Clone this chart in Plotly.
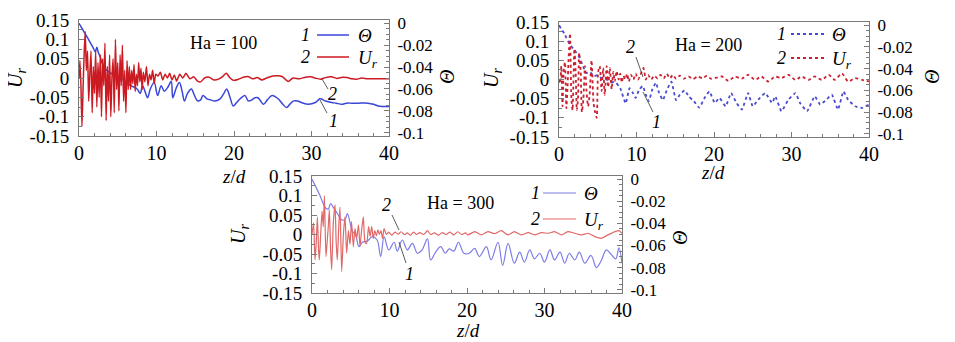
import plotly.graph_objects as go

# page body has an 8px margin: the figure is sized to fit the 955x342 window exactly
OFF = 8
W, H = 955 - OFF, 342 - OFF

# ---------------- data ----------------
# Panel 1, Ha = 100
z1_ur = [0.0, 0.12, 0.25, 0.38, 0.52, 0.66, 0.8, 0.95, 1.1, 1.25, 1.4, 1.55, 1.7, 1.85, 2.0, 2.15, 2.3, 2.45,
         2.6, 2.75, 2.9, 3.05, 3.2, 3.35, 3.5, 3.65, 3.8, 3.95, 4.1, 4.25, 4.4, 4.55, 4.7, 4.85, 5.0, 5.15,
         5.3, 5.45, 5.6, 5.75, 5.9, 6.05, 6.2, 6.35, 6.5, 6.65, 6.8, 6.95, 7.1, 7.25, 7.4, 7.55, 7.7, 7.85,
         8.0, 8.15, 8.3, 8.5, 8.7, 8.9, 9.1, 9.3, 9.5, 9.7, 9.9, 10.2, 10.5, 10.8, 11.1, 11.4, 11.7, 12.0,
         12.3, 12.6, 13.0, 13.4, 13.8, 14.3, 14.8, 15.3, 15.7, 16.2, 16.8, 17.4, 18.0, 18.6, 19.0, 19.5,
         19.9, 20.5, 21.2, 21.8, 22.4, 23.0, 23.6, 24.2, 25.0, 25.6, 26.2, 27.0, 27.6, 28.4, 29.2, 29.9,
         30.6, 31.2, 31.8, 32.6, 33.3, 34.0, 34.6, 35.2, 35.8, 36.5, 37.2, 38.0, 39.0, 40.0]
ur1 = [0.0, 0.045, -0.02, -0.125, -0.03, 0.06, 0.12, 0.02, 0.07, -0.06, 0.01, 0.07, -0.09, 0.03, -0.04, 0.07,
       -0.075, 0.04, -0.05, 0.06, -0.1, 0.05, -0.02, 0.09, -0.11, 0.03, -0.06, 0.06, -0.1, 0.0, 0.05, -0.09,
       0.1, -0.03, 0.04, -0.085, 0.06, -0.02, 0.085, -0.06, 0.02, -0.09, 0.045, -0.03, 0.03, -0.03, 0.02,
       -0.015, 0.035, -0.035, 0.01, -0.02, 0.04, -0.01, 0.025, -0.03, 0.015, -0.01, 0.03, -0.02, 0.01, -0.005,
       0.02, -0.015, 0.01, 0.005, 0.015, -0.005, 0.01, 0.0, 0.012, -0.005, 0.008, -0.008, 0.01, 0.0, 0.012,
       -0.002, 0.003, -0.008, -0.01, 0.0, 0.002, -0.005, -0.003, 0.005, 0.012, 0.0, -0.006, -0.004, 0.002,
       0.004, -0.002, 0.001, -0.005, 0.0, 0.005, 0.006, 0.004, -0.009, 0.0, -0.002, 0.002, 0.003, -0.001,
       -0.003, 0.001, 0.003, -0.001, 0.002, 0.001, -0.002, -0.003, 0.0, -0.002, -0.002, -0.002, -0.002]
z1_th = [0.0, 0.5, 1.0, 1.4, 1.8, 2.1, 2.3, 2.5, 2.7, 3.0, 3.3, 3.6, 4.0, 4.5, 5.0, 5.5, 6.0, 6.5, 7.0, 7.5,
         7.9, 8.2, 8.5, 8.85, 9.2, 9.7, 10.15, 10.6, 11.0, 11.5, 11.9, 12.1, 12.5, 12.95, 13.3, 13.6, 14.0,
         14.5, 14.9, 15.3, 15.7, 16.0, 16.5, 17.0, 17.5, 18.2, 18.7, 19.05, 19.5, 19.9, 20.4, 20.8, 21.4,
         21.85, 22.3, 22.7, 23.1, 23.8, 24.3, 24.9, 25.7, 26.3, 26.8, 27.2, 27.7, 28.2, 28.7, 29.6, 30.5,
         31.1, 31.8, 32.6, 33.2, 33.9, 34.5, 35.2, 36.0, 37.3, 38.0, 38.6, 40.0]
th1 = [0.0, -0.006, -0.012, -0.017, -0.022, -0.026, -0.022, -0.027, -0.03, -0.037, -0.041, -0.043, -0.045,
       -0.047, -0.05, -0.051, -0.053, -0.056, -0.058, -0.06, -0.064, -0.057, -0.062, -0.068, -0.06, -0.054,
       -0.066, -0.057, -0.062, -0.058, -0.053, -0.068, -0.06, -0.054, -0.062, -0.071, -0.064, -0.06, -0.066,
       -0.071, -0.07, -0.066, -0.069, -0.07, -0.071, -0.069, -0.064, -0.06, -0.068, -0.0755, -0.072, -0.069,
       -0.066, -0.0709, -0.07, -0.068, -0.068, -0.074, -0.07, -0.066, -0.069, -0.074, -0.077, -0.074, -0.0709,
       -0.071, -0.0724, -0.074, -0.0724, -0.069, -0.071, -0.0724, -0.073, -0.074, -0.073, -0.073, -0.073,
       -0.073, -0.074, -0.0755, -0.076]

# Panel 2, Ha = 200
z2_ur = [0.0, 0.15, 0.3, 0.45, 0.6, 0.77, 0.95, 1.1, 1.25, 1.42, 1.6, 1.75, 1.98, 2.15, 2.3, 2.45, 2.6, 2.8,
         2.95, 3.15, 3.35, 3.55, 3.75, 3.95, 4.2, 4.45, 4.65, 4.86, 5.05, 5.25, 5.5, 5.7, 5.9, 6.15, 6.35,
         6.55, 6.8, 7.0, 7.2, 7.44, 7.7, 7.9, 8.1, 8.3, 8.55, 8.8, 9.0, 9.3, 9.6, 9.9, 10.2, 10.5, 10.9,
         11.2, 11.5, 11.9, 12.3, 12.7, 13.1, 13.5, 13.9, 14.3, 14.7, 15.1, 15.6, 16.1, 16.7, 17.3, 17.9,
         18.5, 19.1, 19.6, 20.1, 21.0, 21.85, 22.7, 23.57, 24.4, 25.3, 26.1, 27.0, 27.9, 28.7, 29.6, 30.5,
         31.3, 32.2, 33.0, 33.9, 34.8, 35.6, 36.5, 37.3, 38.2, 39.1, 40.0]
ur2 = [0.0, -0.01, 0.035, -0.07, 0.02, 0.045, -0.075, -0.02, 0.06, 0.12, -0.05, -0.08, 0.08, 0.02, -0.08,
       -0.05, 0.07, 0.02, -0.085, -0.05, 0.035, -0.03, -0.07, -0.04, 0.05, -0.06, -0.085, -0.1, 0.02, 0.035,
       -0.03, 0.03, -0.04, 0.035, -0.02, 0.03, -0.025, 0.02, -0.005, 0.022, 0.0, 0.015, -0.008, 0.01, 0.0,
       0.015, -0.005, 0.012, 0.0, 0.015, 0.0, 0.012, 0.03, 0.0, 0.012, 0.0, 0.01, 0.003, 0.012, 0.003, 0.015,
       0.003, 0.012, 0.002, 0.01, 0.002, 0.008, 0.001, 0.008, 0.003, 0.01, 0.002, 0.0036, 0.0079, -0.0035,
       0.0079, 0.002, 0.0123, -0.0009, 0.0079, -0.0052, 0.0079, 0.0036, 0.0123, -0.0009, 0.0079, -0.0009,
       0.0079, -0.0009, 0.0123, -0.0009, 0.016, -0.0052, 0.0036, -0.0009, -0.0052]
z2_th = [0.0, 0.7, 1.33, 2.0, 2.6, 3.0, 3.5, 4.0, 4.5, 5.0, 5.5, 6.1, 6.7, 7.35, 7.9, 8.6, 9.1, 9.5, 9.9, 10.3,
         10.8, 11.2, 11.6, 12.0, 12.5, 12.9, 13.4, 13.9, 14.5, 15.1, 15.6, 16.2, 16.8, 17.4, 18.1, 18.7, 19.4,
         20.1, 20.7, 21.5, 22.2, 22.9, 23.6, 24.4, 25.0, 25.7, 26.6, 27.5, 27.9, 28.7, 29.6, 30.5, 31.1, 32.0,
         33.0, 33.7, 34.5, 35.2, 36.0, 36.7, 37.3, 38.2, 39.1, 40.0]
th2 = [0.0, -0.008, -0.017, -0.023, -0.029, -0.036, -0.044, -0.043, -0.047, -0.046, -0.049, -0.05, -0.052,
       -0.053, -0.058, -0.072, -0.058, -0.062, -0.067, -0.06, -0.056, -0.064, -0.07, -0.06, -0.053, -0.062,
       -0.069, -0.06, -0.052, -0.069, -0.064, -0.06, -0.066, -0.07, -0.076, -0.068, -0.061, -0.0716, -0.067,
       -0.0747, -0.0625, -0.0716, -0.0777, -0.0625, -0.0747, -0.0686, -0.0625, -0.0716, -0.0655, -0.0792,
       -0.0686, -0.0625, -0.0716, -0.0792, -0.0655, -0.0731, -0.0686, -0.064, -0.0777, -0.061, -0.0686,
       -0.0747, -0.0762, -0.0731]

# Panel 3, Ha = 300
z3_ur = [0.0, 0.2, 0.39, 0.55, 0.69, 0.85, 0.95, 1.12, 1.3, 1.45, 1.6, 1.8, 1.95, 2.1, 2.24, 2.4, 2.54, 2.75,
         2.97, 3.12, 3.27, 3.45, 3.61, 3.83, 4.05, 4.26, 4.47, 4.7, 4.9, 5.1, 5.33, 5.55, 5.76, 6.0, 6.19,
         6.4, 6.62, 6.85, 7.05, 7.3, 7.5, 7.7, 7.9, 8.1, 8.3, 8.5, 8.7, 8.9, 9.1, 9.3, 9.6, 9.9, 10.3, 10.7,
         11.1, 11.5, 11.9, 12.3, 12.7, 13.1, 13.5, 13.9, 14.4, 14.9, 15.3, 15.8, 16.3, 16.8, 17.3, 17.8,
         18.3, 18.8, 19.3, 19.8, 20.1, 21.0, 21.85, 22.7, 23.57, 24.4, 25.3, 26.1, 27.0, 27.9, 28.7, 29.6,
         30.5, 31.3, 32.2, 33.0, 33.9, 34.8, 35.6, 36.5, 37.3, 38.2, 39.1, 39.6, 40.0]
ur3 = [0.0, 0.03, -0.065, -0.02, 0.045, -0.04, -0.065, 0.0, 0.06, 0.02, 0.1, -0.057, -0.02, 0.02, 0.063,
       -0.04, -0.09, 0.03, 0.076, -0.02, -0.065, 0.02, 0.07, -0.095, 0.0, 0.045, -0.048, 0.01, -0.025, 0.033,
       -0.031, 0.015, -0.01, 0.025, -0.031, 0.01, 0.045, -0.02, -0.023, 0.02, -0.005, 0.02, -0.01, 0.01,
       -0.003, 0.012, 0.0, 0.01, -0.01, 0.015, 0.0, 0.006, -0.002, 0.006, 0.001, 0.007, 0.0, 0.004, -0.002,
       0.006, 0.0, 0.005, 0.0, 0.01, 0.0, 0.004, -0.002, 0.005, 0.0, 0.006, -0.001, 0.007, 0.0, 0.004, -0.001,
       0.0074, -0.001, 0.0074, 0.002, 0.0098, -0.001, 0.0074, -0.001, 0.0046, -0.001, 0.0046, 0.0032, 0.0074,
       -0.001, 0.0074, 0.0032, -0.001, 0.0032, -0.0055, -0.0098, -0.001, 0.0074, 0.01, 0.003]
z3_th = [0.0, 0.9, 1.76, 2.1, 2.4, 2.8, 3.27, 3.9, 4.3, 4.56, 5.0, 5.2, 5.6, 6.06, 6.5, 7.14, 7.78, 8.4, 8.86,
         9.3, 9.9, 10.6, 11.0, 11.65, 12.3, 12.95, 13.6, 14.2, 14.9, 15.3, 15.95, 16.6, 17.2, 17.7, 18.3,
         18.9, 19.6, 20.3, 20.99, 21.6, 22.5, 23.1, 24.0, 24.6, 25.3, 26.1, 26.8, 27.4, 28.1, 28.7, 29.4,
         30.0, 30.7, 31.3, 32.0, 32.6, 33.2, 33.9, 34.5, 35.2, 36.0, 36.7, 37.3, 37.98, 38.6, 39.2, 39.6, 40.0]
th3 = [0.0, -0.0127, -0.026, -0.027, -0.022, -0.026, -0.031, -0.037, -0.036, -0.031, -0.042, -0.047, -0.05,
       -0.061, -0.057, -0.056, -0.052, -0.055, -0.07, -0.052, -0.064, -0.057, -0.065, -0.055, -0.064, -0.058,
       -0.067, -0.064, -0.054, -0.073, -0.066, -0.061, -0.067, -0.063, -0.065, -0.057, -0.067, -0.067,
       -0.0625, -0.07, -0.061, -0.073, -0.057, -0.078, -0.058, -0.076, -0.066, -0.075, -0.064, -0.072, -0.067,
       -0.075, -0.064, -0.073, -0.066, -0.076, -0.067, -0.073, -0.066, -0.076, -0.069, -0.08, -0.074, -0.064,
       -0.068, -0.072, -0.062, -0.076]

ha_labels = ["Ha = 100", "Ha = 200", "Ha = 300"]
x_ticks = [0, 10, 20, 30, 40]
x_ticktext = ["0", "10", "20", "30", "40"]
ur_ticks = [0.15, 0.1, 0.05, 0, -0.05, -0.1, -0.15]
ur_ticktext = ["0.15", "0.1", "0.05", "0", "-0.05", "-0.1", "-0.15"]
th_ticks = [0, -0.02, -0.04, -0.06, -0.08, -0.1]
th_ticktext = ["0", "-0.02", "-0.04", "-0.06", "-0.08", "-0.1"]
legend_names = ["<i>Θ</i>", "<i>U</i><sub><i>r</i></sub>"]
legend_nums = ["1", "2"]

# ---------------- layout helpers ----------------
FONT = "Liberation Serif"


def px(x):
    # window pixel -> paper fraction
    return (x - OFF) / W


def py(y):
    return 1 - (y - OFF) / H


panels = [
    # (left, right, top, bottom) in window pixels
    dict(l=79, r=389, t=20, b=136),
    dict(l=559, r=869, t=22, b=137),
    dict(l=312, r=622, t=176, b=293),
]

styles = [
    dict(th_color="#3a46d8", ur_color="#cc1a22", dash="solid", width=1.5),
    dict(th_color="#4a4ad0", ur_color="#cc2030", dash="dot", width=1.8),
    dict(th_color="#7c7ce6", ur_color="#e06868", dash="solid", width=1.2),
]

series = [(z1_th, th1, z1_ur, ur1), (z2_th, th2, z2_ur, ur2), (z3_th, th3, z3_ur, ur3)]

fig = go.Figure()
layout = dict(width=W, height=H, margin=dict(l=0, r=0, t=0, b=0, pad=0, autoexpand=False), autosize=False,
              paper_bgcolor="white", plot_bgcolor="white", showlegend=False,
              font=dict(family=FONT, size=18, color="black"), annotations=[], shapes=[])

frame_col = "#7a7a7a"
for i, (p, st, (zt, tv, zu, uv)) in enumerate(zip(panels, styles, series)):
    xn = "" if i == 0 else str(i + 1)
    yth = str(2 * i + 1) if i > 0 else ""
    yur = str(2 * i + 2)
    # Theta on right (base) axis, U_r on overlaying left axis (drawn on top)
    fig.add_trace(go.Scatter(x=zt, y=tv, mode="lines", name=legend_names[0], xaxis="x" + xn, yaxis="y" + yth,
                             line=dict(color=st["th_color"], width=st["width"], dash=st["dash"],
                                       shape="spline", smoothing=1.0 if i != 1 else 0.4)))
    fig.add_trace(go.Scatter(x=zu, y=uv, mode="lines", name=legend_names[1], xaxis="x" + xn,
                             yaxis="y" + yur,
                             line=dict(color=st["ur_color"], width=st["width"], dash=st["dash"],
                                       shape="spline", smoothing=0.6)))
    layout["xaxis" + xn] = dict(domain=[px(p["l"]), px(p["r"])], anchor="y" + yth, range=[0, 40],
                                tickvals=x_ticks, ticktext=x_ticktext, ticks="inside", ticklen=5,
                                tickcolor=frame_col, showline=True, linecolor=frame_col, linewidth=1,
                                mirror=True, showgrid=False, zeroline=False, automargin=False,
                                minor=dict(ticks="inside", ticklen=3, dtick=2, tickcolor=frame_col),
                                tickfont=dict(size=20), ticklabelstandoff=-1)
    layout["yaxis" + yth] = dict(domain=[py(p["b"]), py(p["t"])], anchor="x" + xn, side="right",
                                 range=[-0.103, 0.003], tickvals=th_ticks, ticktext=th_ticktext,
                                 ticks="inside", ticklen=5, tickcolor=frame_col, showline=True,
                                 linecolor=frame_col, linewidth=1, showgrid=False, zeroline=False,
                                 automargin=False,
                                 minor=dict(ticks="inside", ticklen=3, dtick=0.005, tickcolor=frame_col),
                                 tickfont=dict(size=17), ticklabelstandoff=4)
    layout["yaxis" + yur] = dict(overlaying="y" + yth, anchor="x" + xn, side="left",
                                 range=[-0.15, 0.15], tickvals=ur_ticks, ticktext=ur_ticktext,
                                 ticks="inside", ticklen=5, tickcolor=frame_col, showline=True,
                                 linecolor=frame_col, linewidth=1, showgrid=False, zeroline=False,
                                 automargin=False,
                                 minor=dict(ticks="inside", ticklen=3, dtick=0.025, tickcolor=frame_col),
                                 tickfont=dict(size=19), ticklabelstandoff=5)

ann = layout["annotations"]


def text(x, y, t, size=18, angle=0, xanchor="center"):
    ann.append(dict(x=px(x), y=py(y), xref="paper", yref="paper", text=t, showarrow=False,
                    font=dict(family=FONT, size=size, color="black"), textangle=angle,
                    xanchor=xanchor, yanchor="middle"))


def hline(x0, x1, y, color, width, dash):
    layout["shapes"].append(dict(type="line", xref="paper", yref="paper", x0=px(x0), x1=px(x1),
                                 y0=py(y), y1=py(y), line=dict(color=color, width=width, dash=dash)))


# hand-drawn legends: numeral, line sample, name
legend_rows = [
    # (num x, line x0, line x1, name x, row1 y, row2 y)
    (305, 317, 349, 356, 35, 57),
    (781, 791, 826, 830, 34, 58),
    (535, 543, 576, 582, 193, 219),
]
for i, (nx, lx0, lx1, tx, r1, r2) in enumerate(legend_rows):
    st = styles[i]
    for j, (yy, col) in enumerate([(r1, st["th_color"]), (r2, st["ur_color"])]):
        text(nx, yy, f"<i>{legend_nums[j]}</i>")
        hline(lx0, lx1, yy, col, st["width"], st["dash"])
        text(tx, yy + (2 if j == 1 else 0), legend_names[j], size=19, xanchor="left")

# Ha labels
text(223, 43, ha_labels[0])
text(708, 45, ha_labels[1])
text(460, 203, ha_labels[2])

# axis titles
for (x, y) in [(16, 78), (492, 78), (239, 234)]:
    text(x, y, "<i>U</i><sub><i>r</i></sub>", size=20, angle=-90)
for (x, y) in [(447, 77), (932, 77), (680, 238)]:
    text(x, y, "<i>Θ</i>", size=20, angle=-90)
for (x, y) in [(234, 176), (713, 172), (468, 330)]:
    text(x, y, "<i>z</i>/<i>d</i>", size=19)

# curve labels with leader lines
leaders = [
    ((322, 79), (328, 89), (332, 94), "2"), ((320, 100), (327, 113), (333, 121), "1"),
    ((636, 57), (643, 77), (630, 47), "2"), ((643, 92), (653, 112), (656, 122), "1"),
    ((392, 215), (399, 230), (386, 205), "2"), ((399, 242), (406, 263), (409, 274), "1"),
]
for (a, b, t, lab) in leaders:
    layout["shapes"].append(dict(type="line", xref="paper", yref="paper", x0=px(a[0]), y0=py(a[1]),
                                 x1=px(b[0]), y1=py(b[1]), line=dict(color="#333", width=0.8)))
    text(t[0], t[1], f"<i>{lab}</i>")

fig.update_layout(**layout)
fig.write_html("out.html")
